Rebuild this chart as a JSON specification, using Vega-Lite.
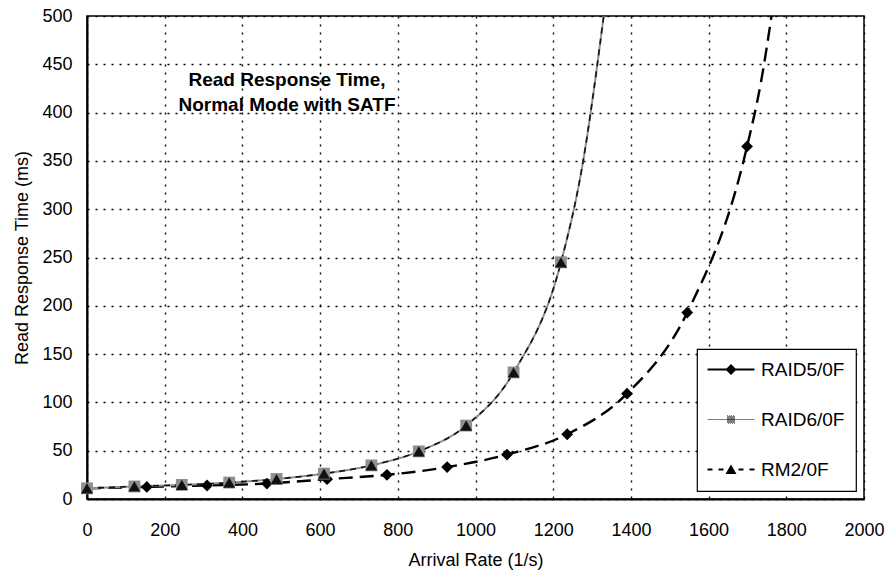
{
  "$schema": "https://vega.github.io/schema/vega-lite/v6.json",
  "width": 777,
  "height": 483,
  "autosize": {"type": "none"},
  "padding": {"left": 87, "top": 16, "right": 22, "bottom": 74},
  "background": "white",
  "title": {
    "text": ["Read Response Time,", "Normal Mode with SATF"],
    "anchor": "start",
    "align": "center",
    "frame": "group",
    "dx": 200,
    "dy": 108,
    "offset": 0,
    "baseline": "top",
    "font": "Liberation Sans",
    "fontSize": 19,
    "fontWeight": "bold",
    "lineHeight": 25,
    "color": "black"
  },
  "config": {
    "font": "Liberation Sans",
    "view": {"stroke": "black", "strokeWidth": 1.5},
    "axis": {
      "labelFont": "Liberation Sans",
      "labelFontSize": 18,
      "labelColor": "black",
      "labelFlush": false,
      "titleFont": "Liberation Sans",
      "titleFontSize": 18,
      "titleFontWeight": "normal",
      "titleColor": "black",
      "domainColor": "black",
      "domainWidth": 2,
      "ticks": false,
      "grid": true,
      "gridColor": "black",
      "gridDash": [2, 6],
      "gridWidth": 1.4,
      "gridOpacity": 1
    },
    "legend": {"strokeWidth": 1.2}
  },
  "data": {
    "values": [
      {"series": "RAID5/0F", "rate": 0, "time": 11, "measured": true},
      {"series": "RAID5/0F", "rate": 154, "time": 12.5, "measured": true},
      {"series": "RAID5/0F", "rate": 309, "time": 14, "measured": true},
      {"series": "RAID5/0F", "rate": 463, "time": 16, "measured": true},
      {"series": "RAID5/0F", "rate": 618, "time": 20.5, "measured": true},
      {"series": "RAID5/0F", "rate": 772, "time": 25, "measured": true},
      {"series": "RAID5/0F", "rate": 927, "time": 33, "measured": true},
      {"series": "RAID5/0F", "rate": 1081, "time": 46, "measured": true},
      {"series": "RAID5/0F", "rate": 1236, "time": 67, "measured": true},
      {"series": "RAID5/0F", "rate": 1390, "time": 109, "measured": true},
      {"series": "RAID5/0F", "rate": 1545, "time": 193, "measured": true},
      {"series": "RAID5/0F", "rate": 1699, "time": 365, "measured": true},
      {"series": "RAID5/0F", "rate": 1735, "time": 432, "measured": false},
      {"series": "RAID5/0F", "rate": 1762, "time": 500, "measured": false},
      {"series": "RAID6/0F", "rate": 0, "time": 11, "measured": true},
      {"series": "RAID6/0F", "rate": 122, "time": 13, "measured": true},
      {"series": "RAID6/0F", "rate": 244, "time": 14.6, "measured": true},
      {"series": "RAID6/0F", "rate": 366, "time": 17, "measured": true},
      {"series": "RAID6/0F", "rate": 488, "time": 20.7, "measured": true},
      {"series": "RAID6/0F", "rate": 610, "time": 26.3, "measured": true},
      {"series": "RAID6/0F", "rate": 732, "time": 34.8, "measured": true},
      {"series": "RAID6/0F", "rate": 854, "time": 49.3, "measured": true},
      {"series": "RAID6/0F", "rate": 976, "time": 76, "measured": true},
      {"series": "RAID6/0F", "rate": 1098, "time": 131, "measured": true},
      {"series": "RAID6/0F", "rate": 1220, "time": 245, "measured": true},
      {"series": "RAID6/0F", "rate": 1275, "time": 345, "measured": false},
      {"series": "RAID6/0F", "rate": 1330, "time": 500, "measured": false},
      {"series": "RM2/0F", "rate": 0, "time": 11, "measured": true},
      {"series": "RM2/0F", "rate": 122, "time": 13, "measured": true},
      {"series": "RM2/0F", "rate": 244, "time": 14.6, "measured": true},
      {"series": "RM2/0F", "rate": 366, "time": 17, "measured": true},
      {"series": "RM2/0F", "rate": 488, "time": 20.7, "measured": true},
      {"series": "RM2/0F", "rate": 610, "time": 26.3, "measured": true},
      {"series": "RM2/0F", "rate": 732, "time": 34.8, "measured": true},
      {"series": "RM2/0F", "rate": 854, "time": 49.3, "measured": true},
      {"series": "RM2/0F", "rate": 976, "time": 76, "measured": true},
      {"series": "RM2/0F", "rate": 1098, "time": 131, "measured": true},
      {"series": "RM2/0F", "rate": 1220, "time": 245, "measured": true},
      {"series": "RM2/0F", "rate": 1275, "time": 345, "measured": false},
      {"series": "RM2/0F", "rate": 1330, "time": 500, "measured": false}
    ]
  },
  "encoding": {
    "x": {
      "field": "rate",
      "type": "quantitative",
      "scale": {"domain": [0, 2000], "nice": false},
      "axis": {
        "title": "Arrival Rate (1/s)",
        "values": [0, 200, 400, 600, 800, 1000, 1200, 1400, 1600, 1800, 2000],
        "format": "d",
        "labelPadding": 22,
        "titlePadding": 12
      }
    },
    "y": {
      "field": "time",
      "type": "quantitative",
      "scale": {"domain": [0, 500], "nice": false},
      "axis": {
        "title": "Read Response Time (ms)",
        "values": [0, 50, 100, 150, 200, 250, 300, 350, 400, 450, 500],
        "format": "d",
        "labelPadding": 15,
        "titlePadding": 10
      }
    }
  },
  "layer": [
    {
      "mark": {"type": "line", "interpolate": "monotone", "clip": true},
      "encoding": {
        "color": {
          "field": "series",
          "type": "nominal",
          "scale": {"domain": ["RAID5/0F", "RAID6/0F", "RM2/0F"], "range": ["#000000", "#8f8f8f", "#111111"]},
          "legend": null
        },
        "strokeDash": {
          "field": "series",
          "type": "nominal",
          "scale": {"domain": ["RAID5/0F", "RAID6/0F", "RM2/0F"], "range": [[14, 7], [1, 0], [6, 5]]},
          "legend": null
        },
        "strokeWidth": {
          "field": "series",
          "type": "ordinal",
          "scale": {"domain": ["RAID5/0F", "RAID6/0F", "RM2/0F"], "range": [2.4, 1.6, 1.8]},
          "legend": null
        }
      }
    },
    {
      "transform": [{"filter": "datum.measured"}],
      "mark": {"type": "point", "filled": true, "size": 140, "opacity": 1},
      "encoding": {
        "shape": {
          "field": "series",
          "type": "nominal",
          "scale": {"domain": ["RAID5/0F", "RAID6/0F", "RM2/0F"], "range": ["diamond", "square", "triangle-up"]},
          "legend": null
        },
        "color": {"field": "series", "type": "nominal", "legend": null}
      }
    },
    {
      "transform": [{"filter": "datum.measured"}],
      "mark": {"type": "point", "filled": true, "size": 100, "opacity": 0, "color": "#000000"},
      "encoding": {
        "shape": {
          "field": "series",
          "type": "nominal",
          "scale": {
            "domain": ["RAID5/0F", "RAID6/0F", "RM2/0F"],
            "range": [
              "M-2,-0.22L7.4,-0.22L7.4,0.22L-2,0.22ZM2.7,-1.1L3.8,0L2.7,1.1L1.6,0Z",
              "M-2,-0.07L7.4,-0.07L7.4,0.07L-2,0.07ZM1.9,-0.8L2.1,-0.8L2.1,-0.6L1.9,-0.6ZM2.3,-0.8L2.5,-0.8L2.5,-0.6L2.3,-0.6ZM2.7,-0.8L2.9,-0.8L2.9,-0.6L2.7,-0.6ZM3.1,-0.8L3.3,-0.8L3.3,-0.6L3.1,-0.6ZM2.1,-0.6L2.3,-0.6L2.3,-0.4L2.1,-0.4ZM2.5,-0.6L2.7,-0.6L2.7,-0.4L2.5,-0.4ZM2.9,-0.6L3.1,-0.6L3.1,-0.4L2.9,-0.4ZM3.3,-0.6L3.5,-0.6L3.5,-0.4L3.3,-0.4ZM1.9,-0.4L2.1,-0.4L2.1,-0.2L1.9,-0.2ZM2.3,-0.4L2.5,-0.4L2.5,-0.2L2.3,-0.2ZM2.7,-0.4L2.9,-0.4L2.9,-0.2L2.7,-0.2ZM3.1,-0.4L3.3,-0.4L3.3,-0.2L3.1,-0.2ZM2.1,-0.2L2.3,-0.2L2.3,0L2.1,0ZM2.5,-0.2L2.7,-0.2L2.7,0L2.5,0ZM2.9,-0.2L3.1,-0.2L3.1,0L2.9,0ZM3.3,-0.2L3.5,-0.2L3.5,0L3.3,0ZM1.9,0L2.1,0L2.1,0.2L1.9,0.2ZM2.3,0L2.5,0L2.5,0.2L2.3,0.2ZM2.7,0L2.9,0L2.9,0.2L2.7,0.2ZM3.1,0L3.3,0L3.3,0.2L3.1,0.2ZM2.1,0.2L2.3,0.2L2.3,0.4L2.1,0.4ZM2.5,0.2L2.7,0.2L2.7,0.4L2.5,0.4ZM2.9,0.2L3.1,0.2L3.1,0.4L2.9,0.4ZM3.3,0.2L3.5,0.2L3.5,0.4L3.3,0.4ZM1.9,0.4L2.1,0.4L2.1,0.6L1.9,0.6ZM2.3,0.4L2.5,0.4L2.5,0.6L2.3,0.6ZM2.7,0.4L2.9,0.4L2.9,0.6L2.7,0.6ZM3.1,0.4L3.3,0.4L3.3,0.6L3.1,0.6ZM2.1,0.6L2.3,0.6L2.3,0.8L2.1,0.8ZM2.5,0.6L2.7,0.6L2.7,0.8L2.5,0.8ZM2.9,0.6L3.1,0.6L3.1,0.8L2.9,0.8ZM3.3,0.6L3.5,0.6L3.5,0.8L3.3,0.8Z",
              "M-2,-0.22L-1,-0.22L-1,0.22L-2,0.22ZM0.2,-0.22L1.2,-0.22L1.2,0.22L0.2,0.22ZM4.2,-0.22L5.2,-0.22L5.2,0.22L4.2,0.22ZM6.4,-0.22L7.4,-0.22L7.4,0.22L6.4,0.22ZM2.7,-1L3.8,0.9L1.6,0.9Z"
            ]
          },
          "legend": {
            "title": null,
            "orient": "bottom-right",
            "offset": 8,
            "padding": 11,
            "rowPadding": 30,
            "labelFont": "Liberation Sans",
            "labelFontSize": 19,
            "labelColor": "black",
            "labelOffset": 34,
            "labelLimit": 300,
            "symbolSize": 100,
            "symbolFillColor": "#000000",
            "symbolStrokeWidth": 0,
            "strokeColor": "black",
            "fillColor": "white"
          }
        }
      }
    }
  ],
  "resolve": {"scale": {"shape": "independent"}}
}
